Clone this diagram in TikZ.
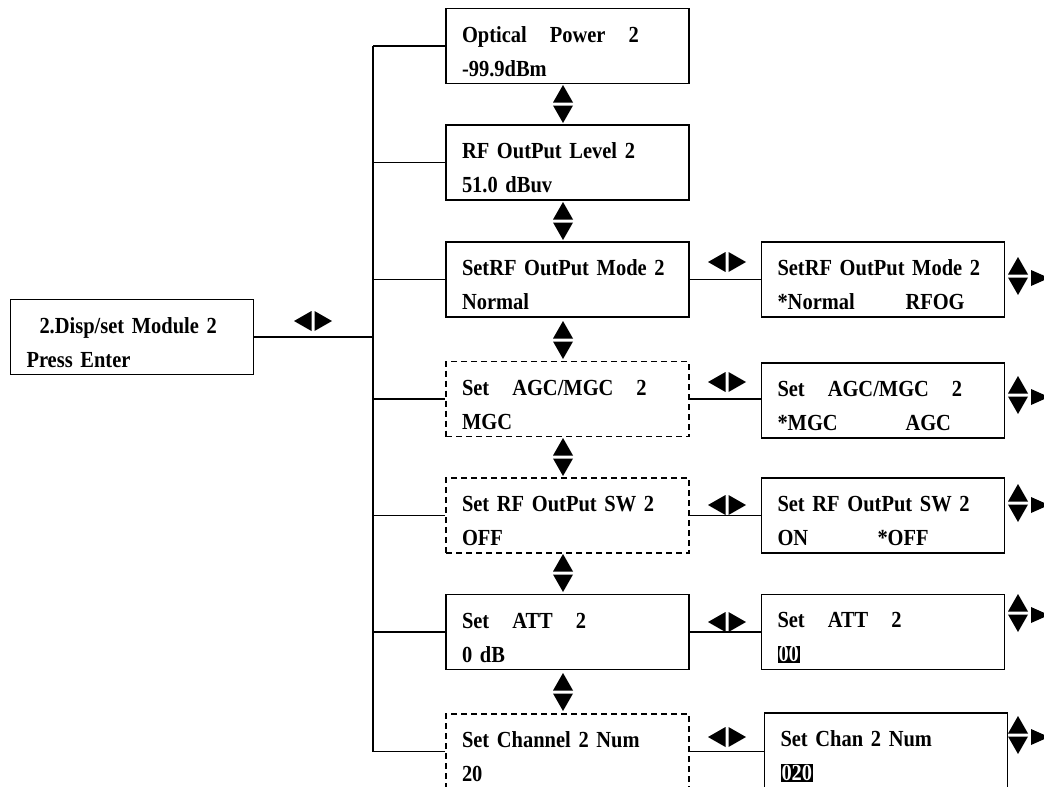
\documentclass[tikz,border=0pt]{standalone}
\usepackage{fontspec}
\setmainfont[FakeStretch=0.89]{Liberation Serif}
\newcommand{\inv}[1]{{\setlength{\fboxsep}{0.5pt}\colorbox{black}{\textcolor{white}{#1}}}}
\newcommand{\lcdfont}{\fontsize{11.5}{17}\selectfont\bfseries\setlength{\spaceskip}{2.4pt plus 0.5pt}}

\begin{document}
\begin{tikzpicture}[
  x=0.5pt,y=-0.5pt,line width=0.8pt,
  every node/.style={font=\lcdfont},
  screen/.style={draw,rectangle,align=left,text width=105.5pt,
    inner xsep=8pt,inner ysep=2pt,minimum height=37.5pt,
    execute at begin node={\rule{0pt}{13.5pt}}},
  option/.style={screen,dash pattern=on 3pt off 2pt},
  lr/.pic={\fill (-1.5,-10) -- (-1.5,10) -- (-19,0) -- cycle;
           \fill (1.5,-10) -- (1.5,10) -- (19,0) -- cycle;},
  ud/.pic={\fill (-10,-1.5) -- (10,-1.5) -- (0,-19) -- cycle;
           \fill (-10,1.5) -- (10,1.5) -- (0,19) -- cycle;},
  udr/.pic={\pic {ud};
            \fill (13,-6) -- (13,10) -- (31,2) -- cycle;}
]
  \clip (0,0) rectangle (1044,787);

  % entry screen
  \node[screen] (menu) at (132,337) {\hspace*{6.5pt}2.Disp/set Module 2\\Press Enter};
  \pic at (313,321) {lr};

  % main column
  \node[screen] (m1) at (567.5,46) {Optical\quad Power\quad 2\\-99.9dBm};
  \node[screen] (m2) at (567.5,162.5) {RF OutPut Level 2\\51.0 dBuv};
  \node[screen] (m3) at (567.5,279.5) {SetRF OutPut Mode 2\\Normal};
  \node[option] (m4) at (567.5,399) {Set\quad AGC/MGC\quad 2\\MGC};
  \node[option] (m5) at (567.5,515.5) {Set RF OutPut SW 2\\OFF};
  \node[screen] (m6) at (567.5,632) {Set\quad ATT\quad 2\\0 dB};
  \node[option] (m7) at (567.5,751.5) {Set Channel 2 Num\\20};
  \foreach \y in {104,221,340,457,573,692}
    \pic at (563,\y) {ud};

  % bus
  \coordinate (bus) at (373,0);
  \draw (m1.west -| bus) -- (m7.west -| bus);
  \draw (menu.east) -- (menu.east -| bus);
  \foreach \i in {1,...,7}
    \draw (m\i.west) -- (m\i.west -| bus);

  % edit screens
  \node[screen] (r3) at (883,279.5)
    {SetRF OutPut Mode 2\\\makebox[64pt][l]{*Normal}RFOG};
  \node[screen] (r4) at (883,400.5)
    {Set\quad AGC/MGC\quad 2\\\makebox[64pt][l]{*MGC}AGC};
  \node[screen] (r5) at (883,515.5)
    {Set RF OutPut SW 2\\\makebox[50pt][l]{ON}*OFF};
  \node[screen] (r6) at (883,632) {Set\quad ATT\quad 2\\\inv{00}};
  \node[screen] (r7) at (886,750.5) {Set Chan 2 Num\\\inv{020}};
  \foreach \i in {3,...,7}
    \draw (m\i.east) -- (m\i.east -| r\i.west);
  \foreach \y in {262,382,505,622,737}
    \pic at (727,\y) {lr};
  \foreach \y in {276,395,503,613,735}
    \pic at (1018,\y) {udr};
\end{tikzpicture}
\end{document}
